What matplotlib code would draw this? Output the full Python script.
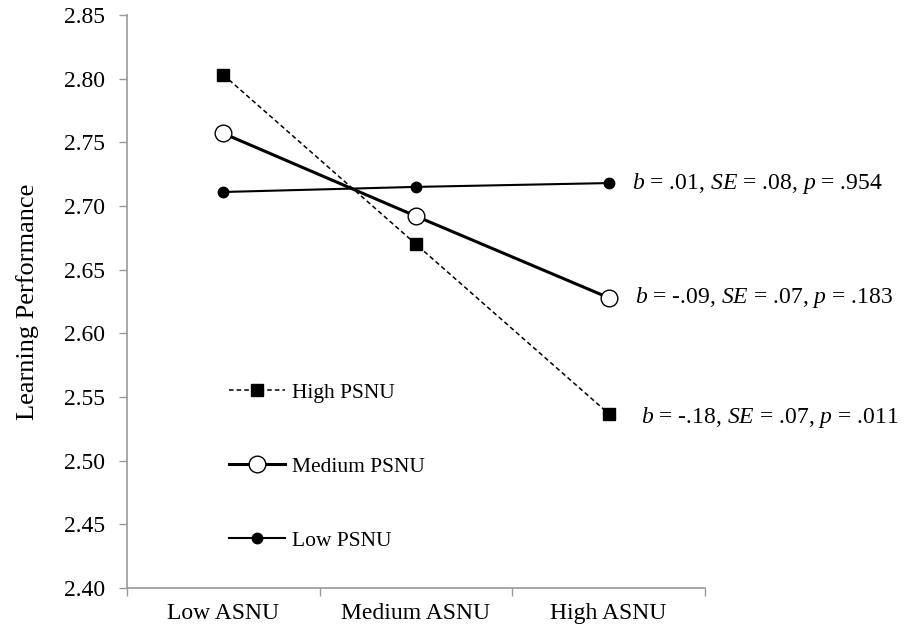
import matplotlib.pyplot as plt

# Data
categories = ["Low ASNU", "Medium ASNU", "High ASNU"]
high_psnu = [2.803, 2.670, 2.537]
medium_psnu = [2.757, 2.692, 2.628]
low_psnu = [2.711, 2.715, 2.718]
y_ticks = [2.40, 2.45, 2.50, 2.55, 2.60, 2.65, 2.70, 2.75, 2.80, 2.85]
stats_low = r"$b$ = .01, $SE$ = .08, $p$ = .954"
stats_medium = r"$b$ = -.09, $SE$ = .07, $p$ = .183"
stats_high = r"$b$ = -.18, $SE$ = .07, $p$ = .011"

plt.rcParams["font.family"] = ["Liberation Serif", "DejaVu Serif"]
plt.rcParams["mathtext.fontset"] = "custom"
plt.rcParams["mathtext.rm"] = "Liberation Serif"
plt.rcParams["mathtext.it"] = "Liberation Serif:italic"

fig = plt.figure(figsize=(9.1, 6.35), dpi=100)
ax = fig.add_axes([0.1396, 0.074, 0.635, 0.9024])

x = range(len(categories))
ax.plot(x, high_psnu, color="black", linestyle=(0, (3, 2)), linewidth=1.1,
        marker="s", markersize=8, markerfacecolor="black", label="High PSNU")
ax.plot(x, medium_psnu, color="black", linewidth=2.2,
        marker="o", markersize=12, markerfacecolor="white",
        markeredgecolor="black", markeredgewidth=1.0, label="Medium PSNU")
ax.plot(x, low_psnu, color="black", linewidth=1.5,
        marker="o", markersize=7.5, markerfacecolor="black", label="Low PSNU")

# Simple slope statistics next to the High ASNU points
ax.annotate(stats_low, xy=(2, low_psnu[2]), xytext=(17, 0),
            textcoords="offset points", va="center", fontsize=17)
ax.annotate(stats_medium, xy=(2, medium_psnu[2]), xytext=(19, 0),
            textcoords="offset points", va="center", fontsize=17)
ax.annotate(stats_high, xy=(2, high_psnu[2]), xytext=(23, -3),
            textcoords="offset points", va="center", fontsize=17)

ax.set_xlim(-0.5, 2.5)
ax.set_ylim(2.40, 2.85)
ax.set_yticks(y_ticks)
ax.set_yticklabels([f"{v:.2f}" for v in y_ticks])

# Category axis: tick marks between categories, labels centred
ax.set_xticks([-0.5, 0.5, 1.5, 2.5])
ax.set_xticklabels([])
ax.set_xticks(list(x), minor=True)
ax.set_xticklabels(categories, minor=True)
ax.tick_params(axis="x", which="minor", length=0, pad=11, labelsize=17)
ax.tick_params(axis="x", which="major", length=6, color="#999999", width=1)
ax.tick_params(axis="y", length=6, color="#999999", width=1, pad=10, labelsize=17)

for side in ["top", "right"]:
    ax.spines[side].set_visible(False)
for side in ["left", "bottom"]:
    ax.spines[side].set_color("#999999")
    ax.spines[side].set_linewidth(1.2)

ax.set_ylabel("Learning Performance", fontsize=19, labelpad=18)

ax.legend(loc="upper left", bbox_to_anchor=(0.177, 0.358), frameon=False,
          fontsize=15.5, handlelength=2.6, handletextpad=0.3,
          labelspacing=2.5, borderpad=0, borderaxespad=0)

fig.savefig("out.png", dpi=100)
